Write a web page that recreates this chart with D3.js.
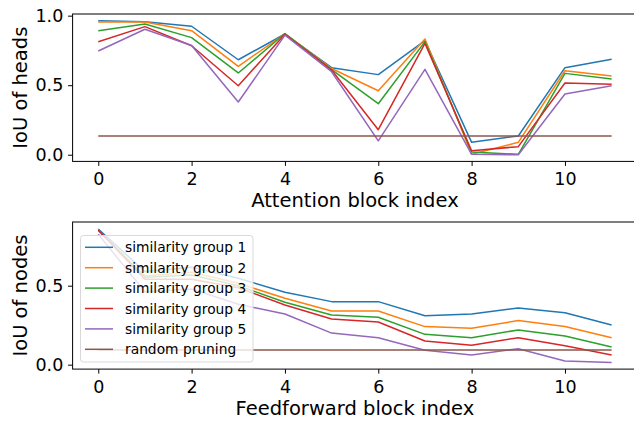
<!DOCTYPE html>
<html><head><meta charset="utf-8">
<script src="https://cdn.jsdelivr.net/npm/d3@7"></script>
<style>body{margin:0;background:#fff}svg{display:block}</style>
</head><body>
<svg id="c" width="634" height="422"></svg>
<script>
const blocks = [0,1,2,3,4,5,6,7,8,9,10,11];
const seriesNames = ["similarity group 1","similarity group 2","similarity group 3","similarity group 4","similarity group 5","random pruning"];
const colors = ["#1f77b4","#ff7f0e","#2ca02c","#d62728","#9467bd","#8c564b"];

// IoU of heads (attention blocks)
const heads1 = [0.964,0.957,0.924,0.683,0.868,0.626,0.576,0.820,0.089,0.135,0.626,0.686];
const heads2 = [0.955,0.955,0.892,0.636,0.870,0.620,0.460,0.832,0.003,0.089,0.604,0.566];
const heads3 = [0.892,0.940,0.842,0.588,0.872,0.612,0.367,0.813,0.020,0.003,0.585,0.545];
const heads4 = [0.813,0.921,0.784,0.496,0.866,0.609,0.180,0.800,0.029,0.058,0.516,0.506];
const heads5 = [0.746,0.902,0.786,0.379,0.860,0.597,0.100,0.614,0.003,0.000,0.437,0.496];
const headsRandom = [0.135,0.135,0.135,0.135,0.135,0.135,0.135,0.135,0.135,0.135,0.135,0.135];

// IoU of nodes (feedforward blocks)
const nodes1 = [0.859,0.589,0.616,0.547,0.458,0.399,0.399,0.310,0.321,0.359,0.329,0.251];
const nodes2 = [0.852,0.561,0.585,0.515,0.420,0.340,0.340,0.241,0.230,0.279,0.241,0.171];
const nodes3 = [0.850,0.553,0.568,0.500,0.395,0.315,0.300,0.192,0.171,0.220,0.182,0.112];
const nodes4 = [0.852,0.540,0.540,0.487,0.378,0.289,0.270,0.150,0.123,0.171,0.120,0.061];
const nodes5 = [0.825,0.462,0.479,0.382,0.321,0.200,0.171,0.091,0.061,0.101,0.023,0.013];
const nodesRandom = [0.093,0.093,0.093,0.093,0.093,0.093,0.093,0.093,0.093,0.093,0.093,0.093];

const xTicks = [0,2,4,6,8,10];
const yTicksTop = [0.0,0.5,1.0];
const yTicksBottom = [0.0,0.5];

const svg = d3.select("#c");
const FONT = "DejaVu Sans, sans-serif";

function panel(opts){
  const g = svg.append("g");
  const x = d3.scaleLinear().domain([-0.55,11.55]).range([72.6,637.3]);
  const y = d3.scaleLinear().domain(opts.ydom).range([opts.bottom, opts.top]);
  const line = d3.line().x((d,i)=>x(blocks[i])).y(d=>y(d));
  opts.series.forEach((s,k)=>{
    g.append("path").datum(s).attr("d",line).attr("fill","none")
     .attr("stroke",colors[k]).attr("stroke-width",1.5).attr("stroke-linejoin","round");
  });
  // frame
  g.append("rect").attr("x",x.range()[0]).attr("y",opts.top)
    .attr("width",x.range()[1]-x.range()[0]).attr("height",opts.bottom-opts.top)
    .attr("fill","none").attr("stroke","#000").attr("stroke-width",1);
  const xa = g.append("g").attr("transform",`translate(0,${opts.bottom})`)
    .call(d3.axisBottom(x).tickValues(xTicks).tickFormat(d3.format("d")).tickSize(4.5).tickPadding(7.1));
  const ya = g.append("g").attr("transform",`translate(${x.range()[0]},0)`)
    .call(d3.axisLeft(y).tickValues(opts.yticks).tickFormat(d3.format(".1f")).tickSize(4.5).tickPadding(4.8));
  [xa,ya].forEach(a=>{
    a.select(".domain").remove();
    a.selectAll("line").attr("stroke","#000").attr("stroke-width",1);
    a.selectAll("text").attr("font-family",FONT).attr("font-size",17.5).attr("fill","#000");
  });
  g.append("text").attr("x",(x.range()[0]+x.range()[1])/2).attr("y",opts.bottom+45.7)
    .attr("text-anchor","middle").attr("font-family",FONT).attr("font-size",19.5).text(opts.xlabel);
  g.append("text").attr("transform",`translate(26.5,${(opts.top+opts.bottom)/2}) rotate(-90)`)
    .attr("text-anchor","middle").attr("font-family",FONT).attr("font-size",19.5).text(opts.ylabel);
  return {g,x,y};
}

panel({top:14,bottom:161.4,ydom:[-0.048,1.012],yticks:yTicksTop,
  series:[heads1,heads2,heads3,heads4,heads5,headsRandom],
  xlabel:"Attention block index",ylabel:"IoU of heads"});
const p2 = panel({top:222,bottom:369.1,ydom:[-0.028,0.903],yticks:yTicksBottom,
  series:[nodes1,nodes2,nodes3,nodes4,nodes5,nodesRandom],
  xlabel:"Feedforward block index",ylabel:"IoU of nodes"});

// legend
const lg = svg.append("g");
lg.append("rect").attr("x",80.5).attr("y",235.5).attr("width",172.5).attr("height",126.5)
  .attr("rx",3).attr("fill","#fff").attr("fill-opacity",0.8).attr("stroke","#d9d9d9").attr("stroke-width",1);
seriesNames.forEach((n,k)=>{
  const cy = 247.3 + k*20.4;
  lg.append("line").attr("x1",85).attr("x2",113).attr("y1",cy).attr("y2",cy)
    .attr("stroke",colors[k]).attr("stroke-width",1.5);
  lg.append("text").attr("x",125).attr("y",cy+5).attr("font-family",FONT).attr("font-size",13.8).text(n);
});
</script>
</body></html>
